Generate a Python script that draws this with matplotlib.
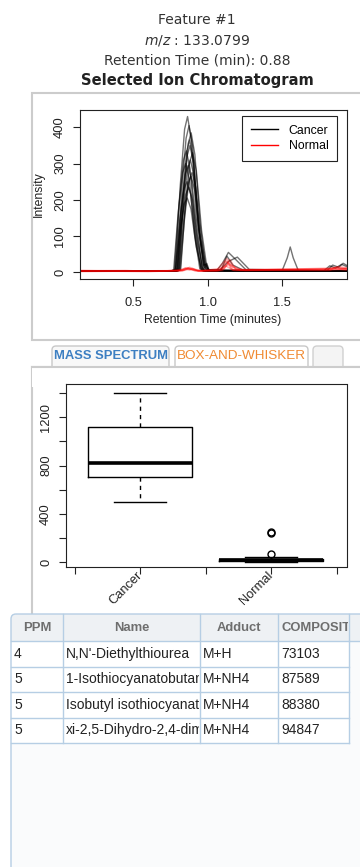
import matplotlib
matplotlib.use("Agg")
import matplotlib.pyplot as plt
from matplotlib.patches import Rectangle, FancyBboxPatch
from matplotlib.lines import Line2D
from matplotlib.transforms import Bbox

# ---- header ----
feature_title = "Feature #1"
mz_value = "133.0799"
rt_value = "0.88"

# ---- chromatogram traces (retention time knots, intensity knots) ----
cancer_rt = [
    [0.14, 0.766, 0.786, 0.816, 0.846, 0.866, 0.891, 0.926, 0.961, 0.98, 1.06, 1.10, 1.14, 1.19, 1.26, 1.94],
    [0.14, 0.79, 0.81, 0.84, 0.87, 0.89, 0.915, 0.95, 0.985, 1.0, 1.94],
    [0.14, 0.776, 0.796, 0.826, 0.856, 0.876, 0.901, 0.936, 0.971, 0.99, 1.005, 1.94],
    [0.14, 0.758, 0.778, 0.808, 0.838, 0.858, 0.883, 0.918, 0.953, 0.97, 1.94],
    [0.14, 0.78, 0.80, 0.83, 0.86, 0.88, 0.905, 0.94, 0.975, 0.99, 1.08, 1.14, 1.20, 1.28, 1.94],
    [0.14, 0.785, 0.805, 0.835, 0.865, 0.885, 0.91, 0.945, 0.98, 0.995, 1.01, 1.94],
    [0.14, 0.77, 0.79, 0.82, 0.85, 0.87, 0.895, 0.93, 0.965, 0.98, 1.50, 1.535, 1.555, 1.575, 1.61, 1.94],
    [0.14, 0.80, 0.82, 0.85, 0.88, 0.90, 0.925, 0.96, 0.995, 1.01, 1.94],
    [0.14, 0.753, 0.773, 0.803, 0.833, 0.853, 0.878, 0.913, 0.948, 0.965, 1.94],
    [0.14, 0.79, 0.81, 0.84, 0.87, 0.89, 0.915, 0.95, 0.985, 1.0, 1.78, 1.82, 1.86, 1.90, 1.94],
    [0.14, 0.774, 0.794, 0.824, 0.854, 0.874, 0.899, 0.934, 0.969, 0.985, 1.94],
    [0.14, 0.764, 0.784, 0.814, 0.844, 0.864, 0.889, 0.924, 0.959, 0.975, 1.94],
    [0.14, 0.796, 0.816, 0.846, 0.876, 0.896, 0.921, 0.956, 0.991, 1.01, 1.8, 1.84, 1.88, 1.91, 1.94],
    [0.14, 0.782, 0.802, 0.832, 0.862, 0.882, 0.907, 0.942, 0.977, 0.995, 1.01, 1.94],
    [0.14, 0.762, 0.782, 0.812, 0.842, 0.862, 0.887, 0.922, 0.957, 0.975, 1.09, 1.13, 1.17, 1.24, 1.94],
]
cancer_int = [
    [3, 3, 10, 235, 395, 430, 365, 150, 15, 5, 4, 25, 55, 35, 6, 4],
    [3, 3, 10, 210, 355, 385, 325, 135, 15, 5, 3],
    [3, 3, 10, 225, 370, 405, 345, 140, 20, 22, 5, 3],
    [3, 3, 8, 185, 310, 335, 285, 115, 12, 4, 3],
    [3, 3, 10, 200, 335, 365, 310, 125, 15, 6, 5, 30, 42, 8, 4],
    [3, 3, 8, 170, 285, 310, 265, 110, 18, 25, 6, 3],
    [3, 3, 8, 160, 270, 295, 250, 105, 12, 5, 4, 40, 70, 40, 4, 4],
    [3, 3, 8, 180, 305, 330, 280, 115, 15, 5, 3],
    [3, 3, 8, 165, 275, 300, 255, 105, 10, 4, 3],
    [3, 3, 8, 145, 245, 265, 225, 95, 12, 5, 4, 18, 12, 22, 15],
    [3, 3, 6, 130, 215, 235, 200, 80, 10, 4, 3],
    [3, 3, 6, 115, 190, 205, 175, 70, 10, 4, 3],
    [3, 3, 8, 150, 255, 275, 235, 95, 15, 6, 4, 20, 14, 25, 18],
    [3, 3, 10, 190, 320, 350, 300, 120, 12, 20, 5, 3],
    [3, 3, 6, 140, 230, 250, 215, 85, 10, 4, 5, 45, 20, 6, 4],
]
normal_rt = [
    [0.14, 0.45, 0.6, 0.75, 0.83, 0.87, 0.92, 0.96, 1.06, 1.10, 1.13, 1.17, 1.25, 1.80, 1.85, 1.90, 1.94],
    [0.14, 0.5, 0.7, 0.84, 0.88, 0.93, 1.08, 1.12, 1.16, 1.22, 1.82, 1.87, 1.94],
    [0.14, 0.55, 0.8, 0.85, 0.9, 0.95, 1.09, 1.14, 1.2, 1.85, 1.94],
    [0.14, 0.6, 0.82, 0.86, 0.89, 0.94, 1.10, 1.15, 1.19, 1.83, 1.88, 1.94],
    [0.14, 0.65, 0.83, 0.87, 0.91, 1.07, 1.12, 1.18, 1.86, 1.94],
    [0.14, 0.5, 0.84, 0.88, 0.92, 1.11, 1.14, 1.17, 1.81, 1.94],
    [0.14, 0.4, 0.7, 0.83, 0.85, 0.88, 0.9, 0.94, 1.1, 1.13, 1.16, 1.84, 1.94],
]
normal_int = [
    [4, 5, 3, 4, 5, 12, 8, 4, 5, 25, 38, 15, 5, 8, 14, 10, 12],
    [5, 3, 4, 6, 14, 5, 5, 30, 20, 5, 6, 15, 8],
    [3, 4, 4, 10, 8, 4, 6, 22, 6, 10, 7],
    [4, 2, 5, 13, 9, 3, 5, 35, 8, 8, 16, 12],
    [5, 4, 4, 11, 5, 4, 18, 5, 12, 9],
    [3, 4, 5, 9, 4, 8, 28, 6, 5, 11],
    [2, 3, 3, 8, 12, 6, 11, 3, 12, 32, 7, 9, 6],
]
chrom_xticks = [0.5, 1.0, 1.5]
chrom_yticks = [0, 100, 200, 300, 400]

# ---- box-and-whisker summary ----
box_groups = ["Cancer", "Normal"]
box_whislo = [502, 3]
box_q1 = [704, 12]
box_med = [824, 18]
box_q3 = [1122, 26]
box_whishi = [1400, 46]
box_fliers = [[], [66, 246, 254]]
box_yticks = [0, 200, 400, 600, 800, 1000, 1200, 1400]
box_ylabels = ["0", "", "400", "", "800", "", "1200", ""]

# ---- annotation table ----
table_headers = ["PPM", "Name", "Adduct", "COMPOSITION"]
ppm = ["4", "5", "5", "5"]
names = ["N,N'-Diethylthiourea", "1-Isothiocyanatobutane",
         "Isobutyl isothiocyanate", "xi-2,5-Dihydro-2,4-dimethylthiazole"]
adducts = ["M+H", "M+NH4", "M+NH4", "M+NH4"]
compositions = ["73103", "87589", "88380", "94847"]

W, H = 360, 867
fig = plt.figure(figsize=(W / 100, H / 100), dpi=100)
fig.patch.set_facecolor("white")

bg = fig.add_axes([0, 0, 1, 1])
bg.set_xlim(0, W)
bg.set_ylim(H, 0)
bg.axis("off")


def px_axes(left, top, right, bottom):
    return fig.add_axes([left / W, 1 - bottom / H, (right - left) / W, (bottom - top) / H])


def clip_px(x0, y0, x1, y1):
    (a, b), (c, d) = bg.transData.transform([(x0, y0), (x1, y1)])
    return Bbox.from_extents(min(a, c), min(b, d), max(a, c), max(b, d))


# header text
hc = "#333333"
bg.text(197, 20, feature_title, ha="center", va="center", fontsize=10, color=hc,
         family="DejaVu Sans")
bg.text(197, 40, r"$m/z$ : " + mz_value, ha="center", va="center", fontsize=10,
         color=hc, family="DejaVu Sans")
bg.text(197, 60, "Retention Time (min): " + rt_value, ha="center", va="center",
         fontsize=10, color=hc, family="DejaVu Sans")
bg.text(197.5, 81, "Selected Ion Chromatogram", ha="center", va="center", fontsize=10.6,
         color="#222222", family="DejaVu Sans", weight="bold")

# panel frames
frame_col = "#cccccc"
bg.add_patch(Rectangle((32, 93), 340, 247, fc="white", ec=frame_col, lw=1.5))
bg.add_patch(Rectangle((32, 367), 340, 260, fc="white", ec=frame_col, lw=1.5))

# tabs
bg.add_patch(FancyBboxPatch((52, 346), 117, 28, boxstyle="round,pad=0,rounding_size=4",
                            fc="#f8f8f8", ec="#c8c8c8", lw=1))
bg.add_patch(FancyBboxPatch((175, 346), 133, 28, boxstyle="round,pad=0,rounding_size=4",
                            fc="white", ec="#c8c8c8", lw=1))
bg.add_patch(FancyBboxPatch((313, 346), 30, 28, boxstyle="round,pad=0,rounding_size=4",
                            fc="#f4f4f4", ec="#d0d0d0", lw=1))
bg.add_patch(Rectangle((32, 367), 340, 20, fc="white", ec="none"))
bg.plot([32, 360], [367, 367], color=frame_col, lw=1.5)
bg.text(110.5, 356, "MASS SPECTRUM", ha="center", va="center", fontsize=9.4,
         weight="bold", color="#3d7fc2", family="Liberation Sans")
bg.text(241.5, 356, "BOX-AND-WHISKER", ha="center", va="center", fontsize=9.7,
         color="#f08a32", family="Liberation Sans")

# ---- chromatogram ----
ax = px_axes(80, 110, 347, 278.5)
for rt, it in zip(cancer_rt, cancer_int):
    ax.plot(rt, it, color="black", alpha=0.55, lw=1)
for rt, it in zip(normal_rt, normal_int):
    ax.plot(rt, it, color="red", alpha=0.3, lw=1.1)
ax.set_xlim(0.144, 1.936)
ax.set_ylim(-17, 448)
ax.set_xticks(chrom_xticks)
ax.set_xticklabels(["0.5", "1.0", "1.5"])
ax.set_yticks(chrom_yticks)
ax.set_yticklabels([str(v) for v in chrom_yticks], rotation=90, va="center")
ax.tick_params(length=5, width=0.8, color="#222222", labelsize=9.3, labelcolor="#222222")
ax.tick_params(axis="x", pad=8)
ax.tick_params(axis="y", pad=5)
for lab in ax.get_xticklabels() + ax.get_yticklabels():
    lab.set_family("Liberation Sans")
for s in ax.spines.values():
    s.set_linewidth(0.8)
    s.set_color("#222222")
ax.set_xlabel("Retention Time (minutes)", fontsize=8.8, family="Liberation Sans",
              color="#222222")
ax.xaxis.set_label_coords(213, 320, transform=bg.transData)
ax.xaxis.label.set_va("center")
ax.set_ylabel("Intensity", fontsize=8.8, family="Liberation Sans", color="#222222")
ax.yaxis.set_label_coords(39, 194, transform=bg.transData)
ax.yaxis.label.set_va("center")

handles = [Line2D([], [], color="black", lw=1), Line2D([], [], color="red", lw=1)]
leg = ax.legend(handles, ["Cancer", "Normal"], loc="upper right",
                bbox_to_anchor=(337, 116), bbox_transform=bg.transData,
                borderaxespad=0, fancybox=False, framealpha=1,
                handlelength=2.2, handletextpad=0.9, labelspacing=0.3,
                borderpad=0.7, prop={"family": "Liberation Sans", "size": 8.8})
leg.get_frame().set_edgecolor("#222222")
leg.get_frame().set_linewidth(0.8)

# ---- box plot ----
ax2 = px_axes(66, 384, 346.5, 567)
stats = []
for i, g in enumerate(box_groups):
    stats.append(dict(label=g, whislo=box_whislo[i], q1=box_q1[i], med=box_med[i],
                      q3=box_q3[i], whishi=box_whishi[i], fliers=box_fliers[i]))
ax2.bxp(stats, positions=[1, 2], widths=0.8, capwidths=0.4,
        boxprops=dict(color="black", lw=1),
        medianprops=dict(color="black", lw=2.6),
        whiskerprops=dict(color="black", lw=1, linestyle=(0, (3, 3))),
        capprops=dict(color="black", lw=1),
        flierprops=dict(marker="o", markerfacecolor="none", markeredgecolor="black",
                        markersize=5, markeredgewidth=1))
ax2.set_xlim(0.435, 2.576)
ax2.set_ylim(-39, 1475)
ax2.set_xticks([0.5, 1, 1.5, 2, 2.5])
ax2.set_xticklabels(["", box_groups[0], "", box_groups[1], ""], rotation=45,
                    ha="right", va="center", rotation_mode="anchor")
ax2.set_yticks(box_yticks)
ax2.set_yticklabels(box_ylabels, rotation=90, va="center")
ax2.tick_params(length=5, width=0.8, color="#222222", labelsize=9.3, labelcolor="#222222")
ax2.tick_params(axis="x", pad=0)
ax2.tick_params(axis="y", pad=5)
for lab in ax2.get_xticklabels() + ax2.get_yticklabels():
    lab.set_family("Liberation Sans")
for s in ax2.spines.values():
    s.set_linewidth(0.8)
    s.set_color("#222222")

# ---- table ----
tcol = "#b6cee4"
col_x = [11, 63, 200, 278, 349]
row_y = [614, 641, 666.5, 692, 717.5, 743]
bg.add_patch(FancyBboxPatch((11, 614), 370, 300, boxstyle="round,pad=0,rounding_size=5",
                            fc="#eef1f4", ec="none", zorder=2))
bg.add_patch(Rectangle((11, 641), 370, 260, fc="#fafbfc", ec="none", zorder=2))
bg.add_patch(Rectangle((11, 641), col_x[-1] - 11, row_y[-1] - 641, fc="white", ec="none",
                       zorder=2))
for y in row_y[1:]:
    bg.plot([11, col_x[-1]], [y, y], color=tcol, lw=1, zorder=3)
bg.plot([col_x[-1], 365], [641, 641], color=tcol, lw=1, zorder=3)
for x in col_x[1:]:
    bg.plot([x, x], [614, row_y[-1]], color=tcol, lw=1, zorder=3)
bg.add_patch(FancyBboxPatch((11, 614), 370, 300, boxstyle="round,pad=0,rounding_size=5",
                            fc="none", ec=tcol, lw=1, zorder=4))

header_x = [37.5, 131.5, 239, 281]
header_ha = ["center", "center", "center", "left"]
for j, htxt in enumerate(table_headers):
    t = bg.text(header_x[j], 628, htxt, ha=header_ha[j], va="center", fontsize=9.4,
                weight="bold", color="#6e6e6e", family="Liberation Sans", zorder=5,
                clip_on=True)
    t.set_clip_box(clip_px(col_x[j] + 1, 614, col_x[j + 1] - 1, 641))

for i in range(len(ppm)):
    yc = (row_y[i + 1] + row_y[i + 2]) / 2
    for j, val in enumerate([ppm[i], names[i], adducts[i], compositions[i]]):
        t = bg.text(col_x[j] + 3, yc, val, ha="left", va="center", fontsize=10,
                    color="#222222", family="Liberation Sans", zorder=5, clip_on=True)
        t.set_clip_box(clip_px(col_x[j] + 1, row_y[i + 1], col_x[j + 1] - 1, row_y[i + 2]))

fig.savefig("out.png", dpi=100)
